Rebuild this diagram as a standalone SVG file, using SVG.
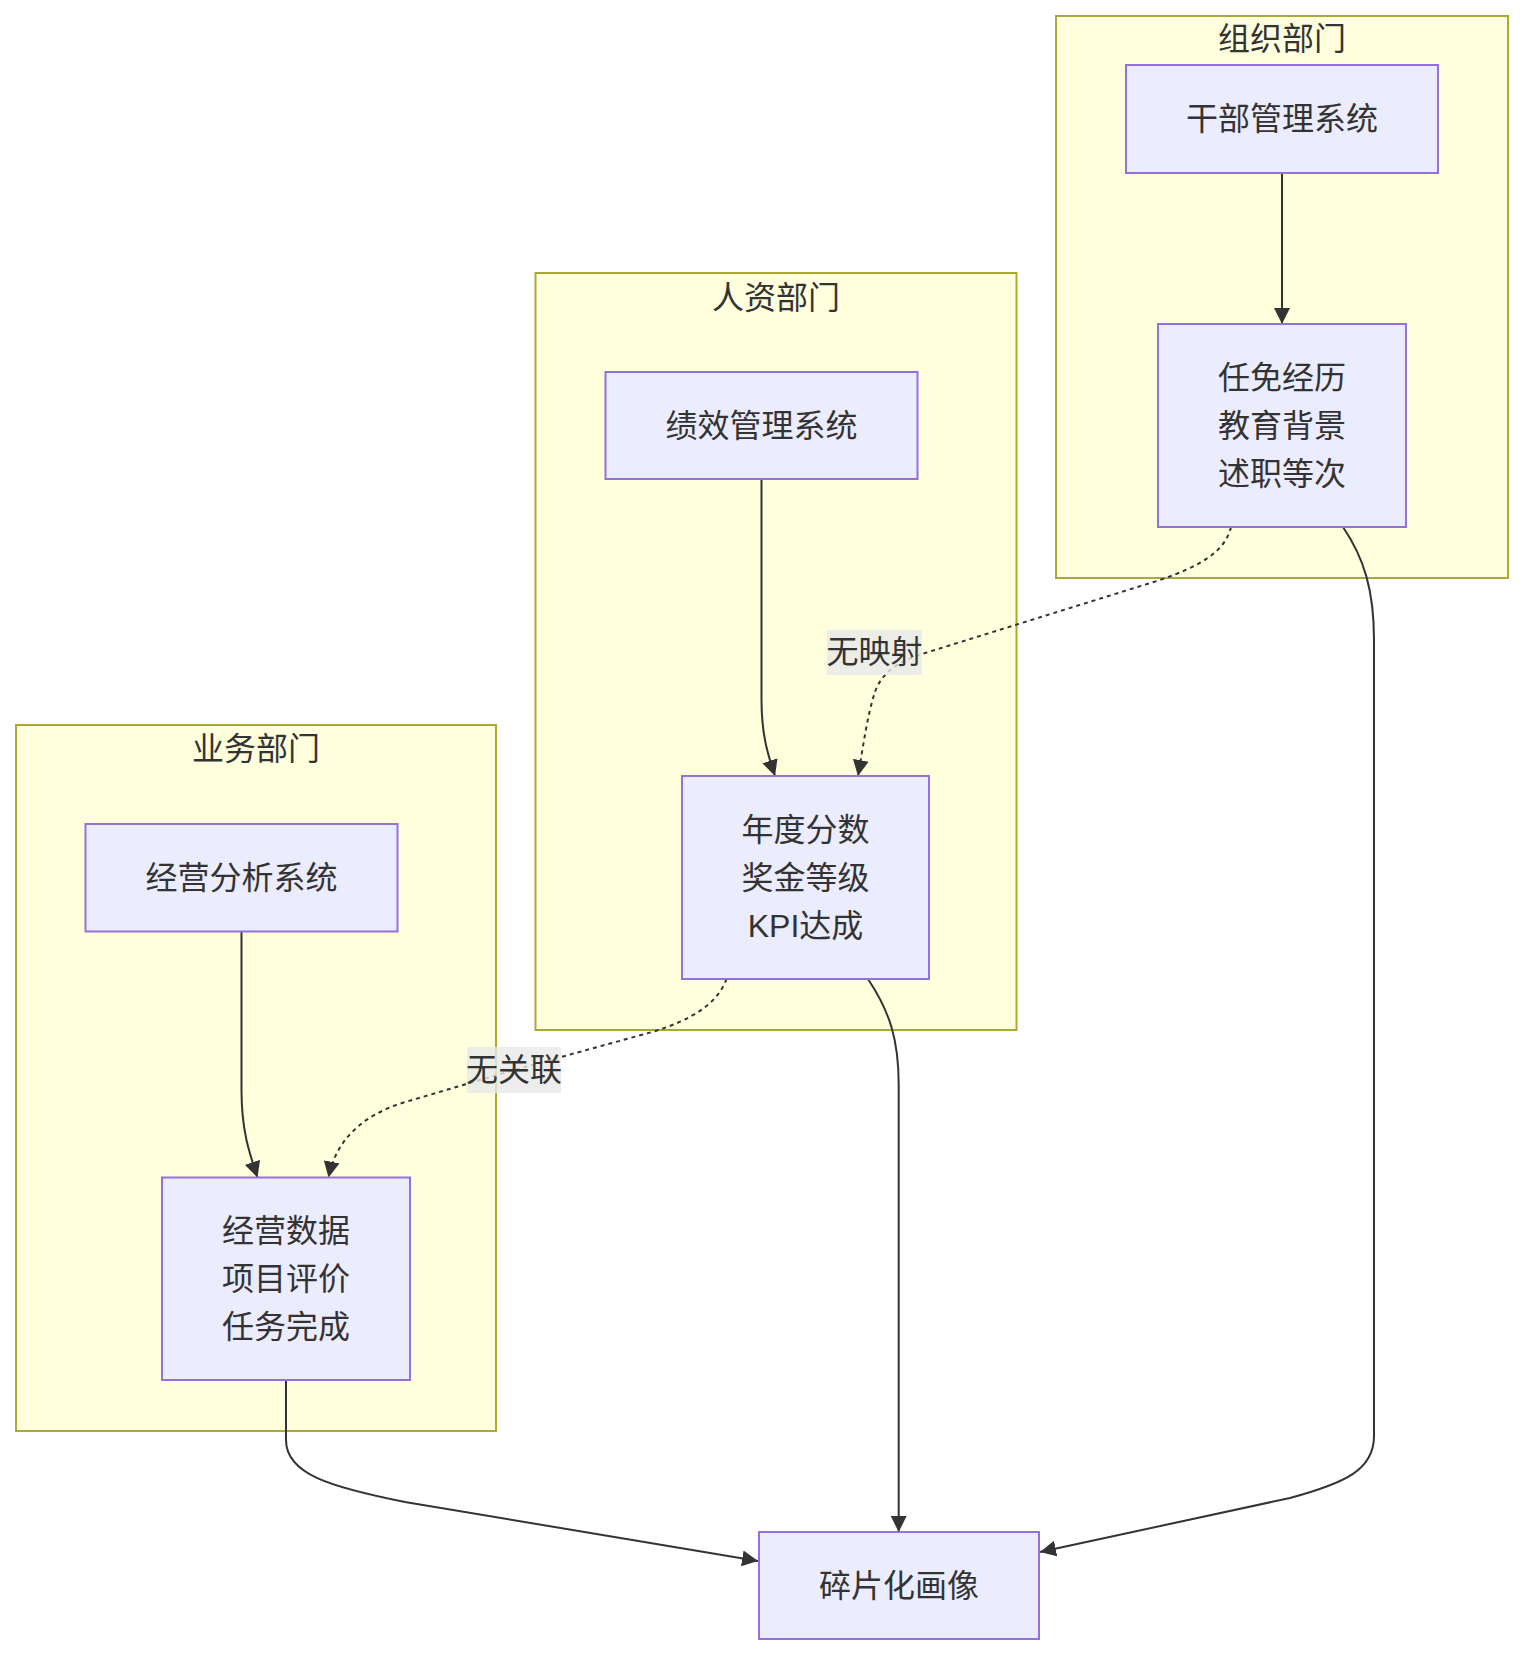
<svg xmlns="http://www.w3.org/2000/svg" width="1524" height="1656" viewBox="0 0 1524 1656">
<style>
text{font-family:"Liberation Sans","Noto Sans CJK SC",sans-serif;font-size:32px;fill:#333333;text-anchor:middle;dominant-baseline:central}
.cluster rect{fill:#ffffde;stroke:#aaaa33;stroke-width:2}
.node rect{fill:#ECECFF;stroke:#9370DB;stroke-width:2}
.edge{fill:none;stroke:#333333;stroke-width:2}
.dotted{stroke-dasharray:4 4}
.lbl{fill:#e8e8e8;fill-opacity:0.8}
</style>
<defs>
<marker id="arrow" viewBox="0 0 10 10" refX="10" refY="5" markerUnits="userSpaceOnUse" markerWidth="16" markerHeight="16" orient="auto">
<path d="M0,0 L10,5 L0,10 z" fill="#333333"/>
</marker>
</defs>
<rect width="1524" height="1656" fill="#ffffff"/>
<g id="clusters">
<g id="cluster-org" class="cluster"><rect x="1056" y="16" width="452" height="562"/><text x="1282" y="39">组织部门</text></g>
<g id="cluster-hr" class="cluster"><rect x="535.5" y="273" width="481" height="757"/><text x="776" y="298">人资部门</text></g>
<g id="cluster-biz" class="cluster"><rect x="16" y="725" width="480" height="706"/><text x="256" y="749">业务部门</text></g>
</g>
<g id="connectors">
<path class="edge" d="M1282,173 L1282,324" marker-end="url(#arrow)"/>
<path class="edge" d="M761.5,479 L761.5,700 C761.5,735 768,755 775,776" marker-end="url(#arrow)"/>
<path class="edge" d="M241.5,931.5 L241.5,1090 C241.5,1130 249,1152 257.5,1177.5" marker-end="url(#arrow)"/>
<path class="edge dotted" d="M1231,527 C1225,552 1200,566 1160,580 L922,654 C897,662 881,674 875,692 C867,716 863,748 858,776" marker-end="url(#arrow)"/>
<path class="edge dotted" d="M726.5,979 C718,1003 692,1020 652,1032 L514,1070 L402,1103 C362,1116 336,1140 328.5,1177.5" marker-end="url(#arrow)"/>
<path class="edge" d="M868,979 C890,1012 898.7,1040 898.7,1085 L898.7,1532" marker-end="url(#arrow)"/>
<path class="edge" d="M1343,527 C1364,558 1374,590 1374,640 L1374,1436 C1374,1470 1345,1483 1290,1498 L1040,1552" marker-end="url(#arrow)"/>
<path class="edge" d="M286,1380 L286,1440 C286,1474 330,1487 405,1502 L758,1561" marker-end="url(#arrow)"/>
<g id="label-nomap"><rect class="lbl" x="827" y="630" width="95" height="45"/><text x="874.5" y="652">无映射</text></g>
<g id="label-norel"><rect class="lbl" x="467" y="1047" width="94" height="46"/><text x="514" y="1070">无关联</text></g>
</g>
<g id="node-cadre" class="node"><rect x="1126" y="65" width="312" height="108"/><text x="1282" y="119">干部管理系统</text></g>
<g id="node-cadre-data" class="node"><rect x="1158" y="324" width="248" height="203"/><text x="1282" y="377.5">任免经历</text><text x="1282" y="425.5">教育背景</text><text x="1282" y="473.5">述职等次</text></g>
<g id="node-perf" class="node"><rect x="605.5" y="372" width="312" height="107"/><text x="761.5" y="425.5">绩效管理系统</text></g>
<g id="node-perf-data" class="node"><rect x="682" y="776" width="247" height="203"/><text x="805.5" y="829.5">年度分数</text><text x="805.5" y="877.5">奖金等级</text><text x="805.5" y="925.5">KPI达成</text></g>
<g id="node-biz" class="node"><rect x="85.5" y="824" width="312" height="107.5"/><text x="241.5" y="877.5">经营分析系统</text></g>
<g id="node-biz-data" class="node"><rect x="162" y="1177.5" width="248" height="202.5"/><text x="286" y="1231">经营数据</text><text x="286" y="1279">项目评价</text><text x="286" y="1327">任务完成</text></g>
<g id="node-portrait" class="node"><rect x="759" y="1532" width="280" height="107"/><text x="899" y="1585.5">碎片化画像</text></g>
</svg>
